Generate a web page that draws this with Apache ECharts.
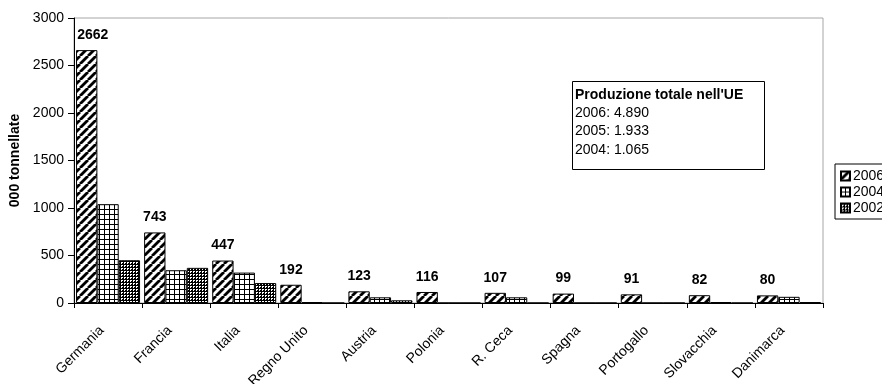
<!DOCTYPE html>
<html>
<head>
<meta charset="utf-8">
<script src="https://cdn.jsdelivr.net/npm/echarts@6/dist/echarts.min.js"></script>
<style>
html,body{margin:0;padding:0;background:#fff;}
#chart{width:882px;height:384px;}
</style>
</head>
<body>
<div id="chart"></div>
<script>
const categories = ['Germania','Francia','Italia','Regno Unito','Austria','Polonia','R. Ceca','Spagna','Portogallo','Slovacchia','Danimarca'];
const values2006 = [2662, 743, 447, 192, 123, 116, 107, 99, 91, 82, 80];
const values2004 = [1040, 345, 320, 10, 60, 0, 60, 0, 0, 10, 65];
const values2002 = [450, 370, 210, 0, 28, 0, 0, 0, 0, 0, 8];
const yTicks = [0, 500, 1000, 1500, 2000, 2500, 3000];
const boxTitle = "Produzione totale nell'UE";
const boxLines = ['2006: 4.890', '2005: 1.933', '2004: 1.065'];

function makeCanvas(w, h) {
  const c = document.createElement('canvas');
  c.width = w; c.height = h;
  return c;
}
function hatchPattern() {
  const s = 8;
  const c = makeCanvas(s, s);
  const g = c.getContext('2d');
  g.fillStyle = '#fff'; g.fillRect(0, 0, s, s);
  g.strokeStyle = '#000'; g.lineWidth = 2.8;
  for (let k = -1; k <= 1; k++) {
    g.beginPath();
    g.moveTo(k * s, s);
    g.lineTo(k * s + s, 0);
    g.stroke();
  }
  return c;
}
function gridPattern() {
  const c = makeCanvas(5, 5);
  const g = c.getContext('2d');
  g.fillStyle = '#fff'; g.fillRect(0, 0, 5, 5);
  g.fillStyle = '#000';
  g.fillRect(0, 4, 5, 1);
  g.fillRect(4, 0, 1, 5);
  return c;
}
function densePattern() {
  const c = makeCanvas(3, 3);
  const g = c.getContext('2d');
  g.fillStyle = '#fff'; g.fillRect(0, 0, 3, 3);
  g.fillStyle = '#000';
  g.fillRect(0, 0, 3, 1);
  g.fillRect(0, 0, 1, 3);
  g.fillRect(2, 2, 1, 1);
  return c;
}

const FONT = 'Liberation Sans, Arial, sans-serif';
const chart = echarts.init(document.getElementById('chart'), null, {renderer: 'canvas'});

const labelData2006 = values2006.map((v, i) => i === 0 ? {value: v, label: {offset: [6, 0]}} : v);

const barBase = {
  type: 'bar',
  barGap: '0%',
  barCategoryGap: '6%',
  animation: false
};

chart.setOption({
  animation: false,
  backgroundColor: '#fff',
  textStyle: {fontFamily: FONT},
  grid: {
    left: 74, right: 59, top: 18, bottom: 81,
    outerBoundsMode: 'none',
    containLabel: false,
    show: true, borderColor: '#a6a6a6', borderWidth: 1, backgroundColor: 'transparent'
  },
  legend: {
    orient: 'vertical',
    left: 835, top: 164,
    padding: [5, 40, 4, 5],
    borderColor: '#000', borderWidth: 1,
    itemWidth: 9, itemHeight: 9, itemGap: 2,
    icon: 'rect',
    textStyle: {fontFamily: FONT, fontSize: 14, color: '#000', lineHeight: 14, padding: [0, 0, 0, -2]},
    data: ['2006', '2004', '2002']
  },
  xAxis: {
    type: 'category',
    data: categories,
    axisLine: {lineStyle: {color: '#000', width: 1}},
    axisTick: {show: true, length: 5, lineStyle: {color: '#000'}},
    axisLabel: {rotate: 45, interval: 0, fontSize: 14, color: '#000', fontFamily: FONT, margin: 19, padding: [0, 9, 0, 0]}
  },
  yAxis: {
    type: 'value',
    min: 0, max: 3000, interval: 500,
    name: '000 tonnellate',
    nameLocation: 'middle',
    nameGap: 50,
    nameTextStyle: {fontFamily: FONT, fontSize: 14, fontWeight: 'bold', color: '#000'},
    axisLine: {show: true, lineStyle: {color: '#000', width: 1}},
    axisTick: {show: true, length: 6, lineStyle: {color: '#000'}},
    splitLine: {show: false},
    axisLabel: {
      fontSize: 14, color: '#000', fontFamily: FONT, margin: 10,
      formatter: v => yTicks.includes(v) ? String(v) : ''
    }
  },
  series: [
    Object.assign({}, barBase, {
      name: '2006',
      data: labelData2006,
      itemStyle: {color: {image: hatchPattern(), repeat: 'repeat'}, borderColor: '#000', borderWidth: 1},
      label: {show: true, position: 'top', distance: 8, fontSize: 14, fontWeight: 'bold', color: '#000', fontFamily: FONT}
    }),
    Object.assign({}, barBase, {
      name: '2004',
      data: values2004,
      itemStyle: {color: {image: gridPattern(), repeat: 'repeat'}, borderColor: '#000', borderWidth: 1}
    }),
    Object.assign({}, barBase, {
      name: '2002',
      data: values2002,
      itemStyle: {color: {image: densePattern(), repeat: 'repeat'}, borderColor: '#000', borderWidth: 1}
    })
  ],
  graphic: [
    {
      type: 'rect', left: 572, top: 81, z: 10,
      shape: {width: 192, height: 88},
      style: {fill: '#fff', stroke: '#000', lineWidth: 1}
    },
    {
      type: 'text', left: 575, top: 88, z: 11,
      style: {text: boxTitle, fontFamily: FONT, fontSize: 14, fontWeight: 'bold', fill: '#000'}
    },
    ...boxLines.map((t, i) => ({
      type: 'text', left: 575, top: 106 + i * 18.4, z: 11,
      style: {text: t, fontFamily: FONT, fontSize: 14, fill: '#000'}
    }))
  ]
});
</script>
</body>
</html>
